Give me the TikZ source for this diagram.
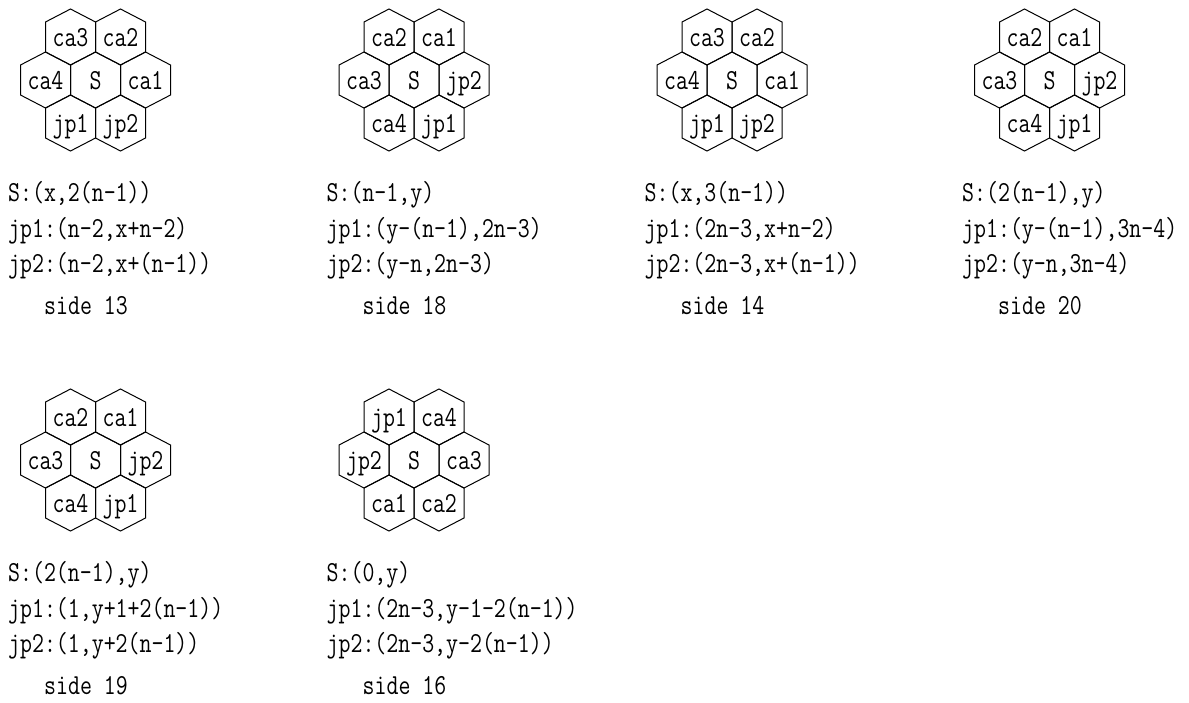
\documentclass[tikz,border=0pt]{standalone}
\usepackage{fontspec}
\setmonofont{Latin Modern Mono}[FakeStretch=0.8]
\usepackage{tikz}

\tikzset{
  hexline/.style={line width=1pt, black},
  cell/.style={font=\ttfamily\fontsize{29}{29}\selectfont, inner sep=0pt,
    text height=18pt, text depth=0pt},
  formula/.style={font=\ttfamily\fontsize{29}{29}\selectfont, inner sep=0pt,
    anchor=base west},
}

% one cluster of seven cells: id, centre x, centre y, then the six outer labels
\newcommand{\sidecluster}[9]{%
  \begin{scope}[shift={(#2,#3)}]
    \foreach \dx/\dy/\lab/\pos in {-25/-43/#4/tl, 25/-43/#5/tr, -50/0/#6/ml,
        0/0/S/c, 50/0/#7/mr, -25/43/#8/bl, 25/43/#9/br} {
      \draw[hexline, shift={(\dx,\dy)}] (-25,-15) -- (0,-28) -- (25,-15)
        -- (25,15) -- (0,28) -- (-25,15) -- cycle;
      \node[cell] (#1-\pos) at (\dx,\dy) {\lab};
    }
  \end{scope}}

% the three coordinates and the side number under a cluster
\newcommand{\sidetext}[7]{%
  \node[formula] (#1-S) at (#2-87.5,#3+121.5) {#4};
  \node[formula] (#1-jp1) at (#2-87.5,#3+157) {#5};
  \node[formula] (#1-jp2) at (#2-87.5,#3+192.5) {#6};
  \node[formula] (#1-side) at (#2-51.5,#3+234.5) {side #7};}

\begin{document}
\begin{tikzpicture}[x=1pt, y=-1pt]
  \useasboundingbox (0,0) rectangle (1189,702);

  % first row
  \sidecluster{s13}{95.5}{80}{ca3}{ca2}{ca4}{ca1}{jp1}{jp2}
  \sidetext{s13}{95.5}{80}{S:(x,2(n-1))}{jp1:(n-2,x+n-2)}{jp2:(n-2,x+(n-1))}{13}

  \sidecluster{s18}{414}{80}{ca2}{ca1}{ca3}{jp2}{ca4}{jp1}
  \sidetext{s18}{414}{80}{S:(n-1,y)}{jp1:(y-(n-1),2n-3)}{jp2:(y-n,2n-3)}{18}

  \sidecluster{s14}{732}{80}{ca3}{ca2}{ca4}{ca1}{jp1}{jp2}
  \sidetext{s14}{732}{80}{S:(x,3(n-1))}{jp1:(2n-3,x+n-2)}{jp2:(2n-3,x+(n-1))}{14}

  \sidecluster{s20}{1049.5}{80}{ca2}{ca1}{ca3}{jp2}{ca4}{jp1}
  \sidetext{s20}{1049.5}{80}{S:(2(n-1),y)}{jp1:(y-(n-1),3n-4)}{jp2:(y-n,3n-4)}{20}

  % second row
  \sidecluster{s19}{95.5}{460}{ca2}{ca1}{ca3}{jp2}{ca4}{jp1}
  \sidetext{s19}{95.5}{460}{S:(2(n-1),y)}{jp1:(1,y+1+2(n-1))}{jp2:(1,y+2(n-1))}{19}

  \sidecluster{s16}{414}{460}{jp1}{ca4}{jp2}{ca3}{ca1}{ca2}
  \sidetext{s16}{414}{460}{S:(0,y)}{jp1:(2n-3,y-1-2(n-1))}{jp2:(2n-3,y-2(n-1))}{16}
\end{tikzpicture}
\end{document}
